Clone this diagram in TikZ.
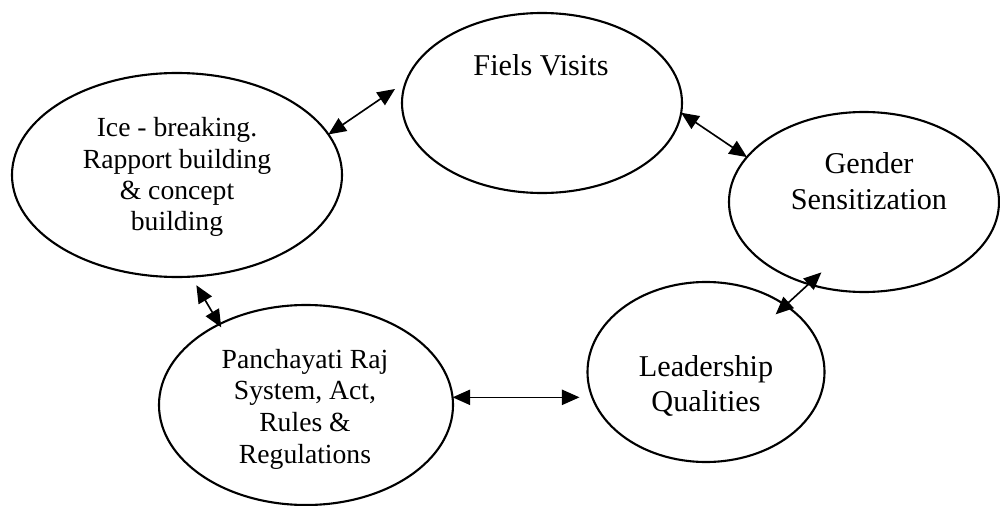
\documentclass[tikz,border=0pt]{standalone}
\usepackage{fontspec}
\setmainfont{Liberation Serif}
\usetikzlibrary{shapes.geometric,arrows.meta}
\tikzset{
	blob/.style={draw, ellipse, line width=0.9pt, inner sep=0pt, outer sep=0pt},
	blobtext/.style={align=center, inner sep=0pt},
	link/.style={{Triangle[length=7.5pt,width=6.5pt]}-{Triangle[length=7.5pt,width=6.5pt]}, line width=0.7pt}
}
\def\smalltext{\fontsize{11.8}{13.3}\selectfont}
\def\bigtext{\fontsize{12.9}{15.2}\selectfont}

\begin{document}
\begin{tikzpicture}[x=0.015cm, y=-0.015cm]
		%%%%% START %%%%%
		\useasboundingbox (0, 0) rectangle (1000, 506);
		
		\node[blob, minimum width=4.95cm, minimum height=3.06cm] (ice) at (177, 175) {};
		\node[blobtext, font=\smalltext] (icetext) at (177, 177) {Ice - breaking.\\Rapport building\\\& concept\\building};
		
		\node[blob, minimum width=4.2cm, minimum height=2.7cm] (fiels) at (542, 103) {};
		\node[blobtext, font=\bigtext] (fielstext) at (541, 65) {Fiels Visits};
		
		\node[blob, minimum width=4.05cm, minimum height=2.7cm] (gender) at (864, 202) {};
		\node[blobtext, font=\bigtext] (gendertext) at (869, 181) {Gender\\Sensitization};
		
		\node[blob, minimum width=3.555cm, minimum height=2.7cm] (lead) at (706, 372) {};
		\node[blobtext, font=\bigtext] (leadtext) at (706, 386) {Leadership\\Qualities};
		
		\node[blob, minimum width=4.41cm, minimum height=3cm] (panch) at (306, 405) {};
		\node[blobtext, font=\fontsize{11.8}{13.5}\selectfont] (panchtext) at (305, 409) {Panchayati Raj\\System, Act,\\Rules \&\\Regulations};
		
		\draw[link, shorten >=0.2cm] (ice.15) -- (fiels.171);
		\draw[link] (fiels.-4) -- (gender.159);
		\draw[link, shorten <=-0.2cm, shorten >=-0.26cm] (lead.40) -- (gender.236);
		\draw[link, shorten <=0.15cm, shorten >=-0.055cm] (ice.278) -- (panch.137);
		\draw[link, shorten >=0.12cm] (panch.3) -- (panch.3 -| lead.west);
		
		%%%%% END %%%%%
\end{tikzpicture}
\end{document}
